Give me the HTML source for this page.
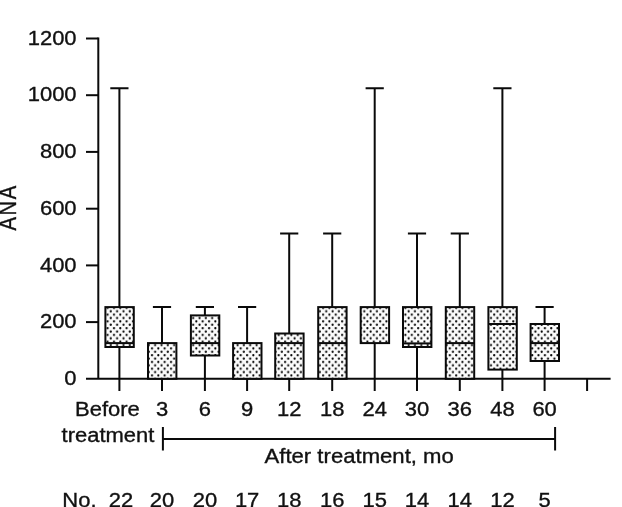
<!DOCTYPE html>
<html><head><meta charset="utf-8"><title>ANA box plot</title>
<style>html,body{margin:0;padding:0;background:#fff}svg{display:block}text{font-family:"Liberation Sans",sans-serif;fill:#111}</style></head>
<body>
<svg width="622" height="507" viewBox="0 0 622 507">
<defs><pattern id="dots" patternUnits="userSpaceOnUse" x="109.216" y="309.610" width="6.337" height="6.760"><rect width="6.337" height="6.760" fill="#fbfbfb"/><circle cx="1.584" cy="1.690" r="1.1" fill="#000"/><circle cx="4.753" cy="5.070" r="1.1" fill="#000"/></pattern></defs>
<rect width="622" height="507" fill="#fff"/>
<g stroke="#0a0a0a" stroke-width="2" fill="none" stroke-linecap="butt">
<path d="M98.3 37.4V378.8"/>
<path d="M86 378.8H610.6"/>
<path d="M86 322.1H98.3"/>
<path d="M86 265.4H98.3"/>
<path d="M86 208.7H98.3"/>
<path d="M86 151.9H98.3"/>
<path d="M86 95.2H98.3"/>
<path d="M86 38.5H98.3"/>
<path d="M119.4 378.8V391"/>
<path d="M162.0 378.8V391"/>
<path d="M204.9 378.8V391"/>
<path d="M247.1 378.8V391"/>
<path d="M289.2 378.8V391"/>
<path d="M332.2 378.8V391"/>
<path d="M374.7 378.8V391"/>
<path d="M417.0 378.8V391"/>
<path d="M459.8 378.8V391"/>
<path d="M502.4 378.8V391"/>
<path d="M544.6 378.8V391"/>
<path d="M587.1 378.8V391"/>
<path d="M119.4 88.2V307.1M110.3 88.2H128.5"/>
<path d="M119.4 347.0V378.8"/>
<path d="M162.0 307.1V343.1M152.9 307.1H171.1"/>
<path d="M204.9 307.1V315.4M195.8 307.1H214.0"/>
<path d="M204.9 355.5V378.8"/>
<path d="M247.1 307.1V343.1M238.0 307.1H256.2"/>
<path d="M289.2 233.4V333.5M280.1 233.4H298.3"/>
<path d="M332.2 233.4V307.1M323.1 233.4H341.3"/>
<path d="M374.7 88.2V307.1M365.6 88.2H383.8"/>
<path d="M374.7 343.1V378.8"/>
<path d="M417.0 233.4V307.1M407.9 233.4H426.1"/>
<path d="M417.0 347.0V378.8"/>
<path d="M459.8 233.4V307.1M450.7 233.4H468.9"/>
<path d="M502.4 88.2V307.1M493.3 88.2H511.5"/>
<path d="M502.4 369.6V378.8"/>
<path d="M544.6 307.1V324.0M535.5 307.1H553.7"/>
<path d="M544.6 361.0V378.8"/>
</g>
<g stroke="#0a0a0a" stroke-width="2" fill="url(#dots)">
<rect x="105.40" y="307.1" width="28.4" height="39.9"/>
<path d="M105.40 343.1H133.80"/>
<rect x="148.00" y="343.1" width="28.4" height="35.7"/>
<rect x="190.90" y="315.4" width="28.4" height="40.1"/>
<path d="M190.90 343.1H219.30"/>
<rect x="233.10" y="343.1" width="28.4" height="35.7"/>
<rect x="275.20" y="333.5" width="28.4" height="45.3"/>
<path d="M275.20 343.1H303.60"/>
<rect x="318.20" y="307.1" width="28.4" height="71.7"/>
<path d="M318.20 343.1H346.60"/>
<rect x="360.70" y="307.1" width="28.4" height="36.0"/>
<rect x="403.00" y="307.1" width="28.4" height="39.9"/>
<path d="M403.00 343.4H431.40"/>
<rect x="445.80" y="307.1" width="28.4" height="71.7"/>
<path d="M445.80 343.1H474.20"/>
<rect x="488.40" y="307.1" width="28.4" height="62.5"/>
<path d="M488.40 324.0H516.80"/>
<rect x="530.60" y="324.0" width="28.4" height="37.0"/>
<path d="M530.60 343.1H559.00"/>
</g>
<text transform="translate(76.60 385.05) scale(1.0575 1)" font-size="20.8" text-anchor="end" stroke="#111" stroke-width="0.35">0</text>
<text transform="translate(76.60 328.33) scale(1.0575 1)" font-size="20.8" text-anchor="end" stroke="#111" stroke-width="0.35">200</text>
<text transform="translate(76.60 271.62) scale(1.0575 1)" font-size="20.8" text-anchor="end" stroke="#111" stroke-width="0.35">400</text>
<text transform="translate(76.60 214.90) scale(1.0575 1)" font-size="20.8" text-anchor="end" stroke="#111" stroke-width="0.35">600</text>
<text transform="translate(76.60 158.19) scale(1.0575 1)" font-size="20.8" text-anchor="end" stroke="#111" stroke-width="0.35">800</text>
<text transform="translate(76.60 101.47) scale(1.0575 1)" font-size="20.8" text-anchor="end" stroke="#111" stroke-width="0.35">1000</text>
<text transform="translate(76.60 44.75) scale(1.0575 1)" font-size="20.8" text-anchor="end" stroke="#111" stroke-width="0.35">1200</text>
<text transform="translate(139.80 416.30) scale(1.0575 1)" font-size="20.8" text-anchor="end" stroke="#111" stroke-width="0.35">Before</text>
<text transform="translate(162.00 416.30) scale(1.0575 1)" font-size="20.8" text-anchor="middle" stroke="#111" stroke-width="0.35">3</text>
<text transform="translate(204.90 416.30) scale(1.0575 1)" font-size="20.8" text-anchor="middle" stroke="#111" stroke-width="0.35">6</text>
<text transform="translate(247.10 416.30) scale(1.0575 1)" font-size="20.8" text-anchor="middle" stroke="#111" stroke-width="0.35">9</text>
<text transform="translate(289.20 416.30) scale(1.0575 1)" font-size="20.8" text-anchor="middle" stroke="#111" stroke-width="0.35">12</text>
<text transform="translate(332.20 416.30) scale(1.0575 1)" font-size="20.8" text-anchor="middle" stroke="#111" stroke-width="0.35">18</text>
<text transform="translate(374.70 416.30) scale(1.0575 1)" font-size="20.8" text-anchor="middle" stroke="#111" stroke-width="0.35">24</text>
<text transform="translate(417.00 416.30) scale(1.0575 1)" font-size="20.8" text-anchor="middle" stroke="#111" stroke-width="0.35">30</text>
<text transform="translate(459.80 416.30) scale(1.0575 1)" font-size="20.8" text-anchor="middle" stroke="#111" stroke-width="0.35">36</text>
<text transform="translate(502.40 416.30) scale(1.0575 1)" font-size="20.8" text-anchor="middle" stroke="#111" stroke-width="0.35">48</text>
<text transform="translate(544.60 416.30) scale(1.0575 1)" font-size="20.8" text-anchor="middle" stroke="#111" stroke-width="0.35">60</text>
<text transform="translate(154.40 442.20) scale(1.0575 1)" font-size="20.8" text-anchor="end" stroke="#111" stroke-width="0.35">treatment</text>
<text transform="translate(264.50 463.20) scale(1.064 1)" font-size="20.8" text-anchor="start" stroke="#111" stroke-width="0.35">After treatment, mo</text>
<text transform="translate(62.30 506.50) scale(1.0575 1)" font-size="20.8" text-anchor="start" stroke="#111" stroke-width="0.35">No.</text>
<text transform="translate(120.90 506.50) scale(1.0575 1)" font-size="20.8" text-anchor="middle" stroke="#111" stroke-width="0.35">22</text>
<text transform="translate(162.00 506.50) scale(1.0575 1)" font-size="20.8" text-anchor="middle" stroke="#111" stroke-width="0.35">20</text>
<text transform="translate(204.90 506.50) scale(1.0575 1)" font-size="20.8" text-anchor="middle" stroke="#111" stroke-width="0.35">20</text>
<text transform="translate(247.10 506.50) scale(1.0575 1)" font-size="20.8" text-anchor="middle" stroke="#111" stroke-width="0.35">17</text>
<text transform="translate(289.20 506.50) scale(1.0575 1)" font-size="20.8" text-anchor="middle" stroke="#111" stroke-width="0.35">18</text>
<text transform="translate(332.20 506.50) scale(1.0575 1)" font-size="20.8" text-anchor="middle" stroke="#111" stroke-width="0.35">16</text>
<text transform="translate(374.70 506.50) scale(1.0575 1)" font-size="20.8" text-anchor="middle" stroke="#111" stroke-width="0.35">15</text>
<text transform="translate(417.00 506.50) scale(1.0575 1)" font-size="20.8" text-anchor="middle" stroke="#111" stroke-width="0.35">14</text>
<text transform="translate(459.80 506.50) scale(1.0575 1)" font-size="20.8" text-anchor="middle" stroke="#111" stroke-width="0.35">14</text>
<text transform="translate(502.40 506.50) scale(1.0575 1)" font-size="20.8" text-anchor="middle" stroke="#111" stroke-width="0.35">12</text>
<text transform="translate(544.60 506.50) scale(1.0575 1)" font-size="20.8" text-anchor="middle" stroke="#111" stroke-width="0.35">5</text>
<text transform="translate(16 230.5) rotate(-90) scale(1 1.217)" font-size="20.2" letter-spacing="1.6" text-anchor="start" stroke="#111" stroke-width="0.3">ANA</text>
<g stroke="#0a0a0a" stroke-width="2" fill="none"><path d="M162.9 427.1V450.4M555.1 427.1V450.4M162.9 438.9H555.1"/></g>
</svg></body></html>
